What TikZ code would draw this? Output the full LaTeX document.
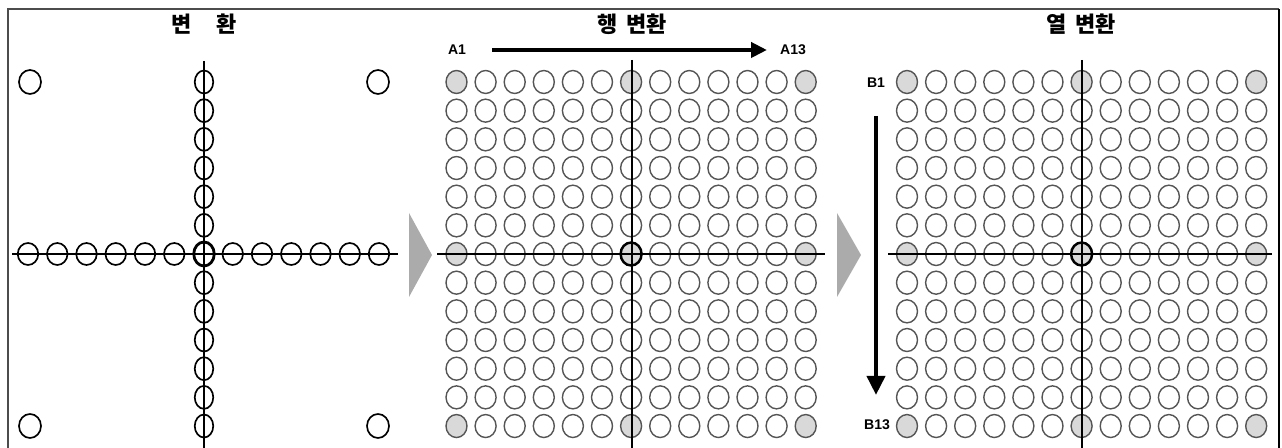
\documentclass[tikz,border=0pt]{standalone}
\usepackage{fontspec}
\setmainfont{Liberation Sans}
\newfontfamily\kr{Noto Sans CJK KR}
\usetikzlibrary{shapes.geometric,arrows.meta}
\definecolor{shade}{HTML}{D9D9D9}
\definecolor{rim}{HTML}{555555}
\definecolor{wedge}{HTML}{ABABAB}
\tikzset{
  ring/.style={ellipse,draw=black,line width=0.95pt,inner sep=0pt,minimum width=0.41cm,minimum height=0.44cm},
  vring/.style={ring,minimum width=0.37cm,minimum height=0.46cm},
  cring/.style={ring,minimum width=0.44cm,minimum height=0.48cm},
  cell/.style={ellipse,draw=rim,line width=0.8pt,inner sep=0pt,minimum width=0.42cm,minimum height=0.46cm},
  hit/.style={cell,fill=shade},
  mid/.style={hit,draw=black,line width=1.4pt},
  axis/.style={line width=0.6pt},
  title/.style={font=\kr\bfseries\fontsize{12.5}{13}\selectfont},
  tag/.style={font=\bfseries\fontsize{8}{9}\selectfont,inner sep=1pt},
  arr/.style={line width=2.3pt,-{Triangle[length=0.32cm,width=0.3cm]}},
}
\begin{document}
\begin{tikzpicture}[x=0.02cm,y=-0.02cm]
\useasboundingbox (0,0) rectangle (1282,448);
% frame
\draw[gray!60!black,line width=0.8pt] (8,448) -- (8,9) -- (1279,9);
\draw[line width=1.6pt] (1279,9) -- (1279,448);

% panel 1
\node[title] (t1) at (204,24) {변\hspace{1.1em}환};
\foreach \i in {1,...,6,8,9,...,13}{
  \node[ring] (h-\i) at ({28+29.25*(\i-1)},254) {};
  \node[vring] (v-\i) at (204,{82+28.67*(\i-1)}) {};
}
\node[ring,line width=1.6pt,minimum height=0.48cm] (o1) at (204,254) {};
\node[cring] (k1) at (30,82) {};
\node[cring] (k2) at (378,82) {};
\node[cring] (k3) at (30,426) {};
\node[cring] (k4) at (378,426) {};
\draw[axis] (12,254) -- (398,254);
\draw[axis] (204,61) -- (204,448);

\fill[wedge] (409,213) -- (432,255) -- (409,297) -- cycle;

% panel 2
\node[title] (t2) at (632,24) {행\hspace{0.4em}변환};
\foreach \r in {1,...,13}{
  \foreach \c in {1,...,13}{
    \pgfmathtruncatemacro\ok{(\r==1||\r==7||\r==13)&&(\c==1||\c==7||\c==13)}
    \ifnum\ok=1 \def\st{hit}\else\def\st{cell}\fi
    \ifnum\r=7 \ifnum\c=7 \def\st{mid}\fi\fi
    \node[\st] (a-\r-\c) at ({456.5+29.1*(\c-1)},{82+28.67*(\r-1)}) {};
  }
}
\draw[axis] (437,254) -- (825,254);
\draw[axis] (632,60) -- (632,448);
\node[tag] (A1) at (457,50) {A1};
\node[tag] (A13) at (793,50) {A13};
\draw[arr,shorten <=0.48cm,shorten >=0.22cm] (A1.east) -- (A13.west);

\fill[wedge] (837,213) -- (861,255) -- (837,297) -- cycle;

% panel 3
\node[title] (t3) at (1081,24) {열\hspace{0.4em}변환};
\foreach \r in {1,...,13}{
  \foreach \c in {1,...,13}{
    \pgfmathtruncatemacro\ok{(\r==1||\r==7||\r==13)&&(\c==1||\c==7||\c==13)}
    \ifnum\ok=1 \def\st{hit}\else\def\st{cell}\fi
    \ifnum\r=7 \ifnum\c=7 \def\st{mid}\fi\fi
    \node[\st] (b-\r-\c) at ({907+29.1*(\c-1)},{82+28.67*(\r-1)}) {};
  }
}
\draw[axis] (888,254) -- (1272,254);
\draw[axis] (1082,60) -- (1082,448);
\node[tag] (B1) at (876,83) {B1};
\node[tag] (B13) at (877,425) {B13};
\draw[arr,-{Triangle[length=0.38cm,width=0.36cm]},shorten <=0.52cm,shorten >=0.46cm] (B1.south) -- (B1.south |- B13.north);
\end{tikzpicture}
\end{document}
